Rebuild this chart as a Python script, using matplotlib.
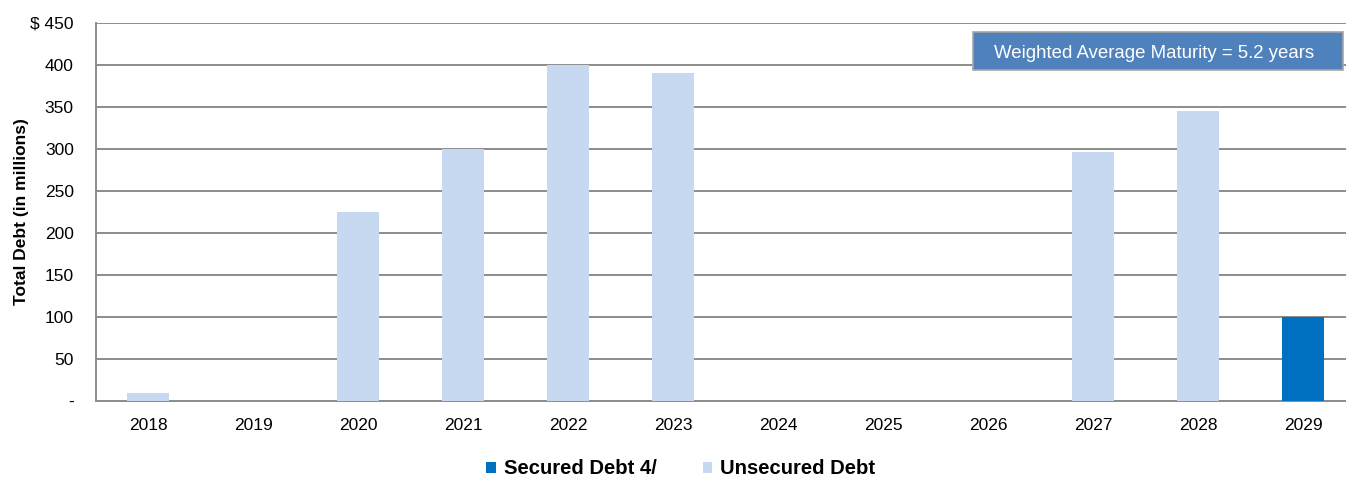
import matplotlib
matplotlib.use("Agg")
import matplotlib.pyplot as plt
from matplotlib.patches import Patch, Rectangle

plt.rcParams['font.family'] = ['Liberation Sans', 'DejaVu Sans']

years = ["2018", "2019", "2020", "2021", "2022", "2023", "2024", "2025", "2026", "2027", "2028", "2029"]
secured = [0, 0, 0, 0, 0, 0, 0, 0, 0, 0, 0, 100]
unsecured = [10, 0, 225, 300, 400, 390, 0, 0, 0, 297, 345, 0]
yticks = [0, 50, 100, 150, 200, 250, 300, 350, 400, 450]
ytick_labels = ["-", "50", "100", "150", "200", "250", "300", "350", "400", "$ 450"]

sec_color = "#0070C0"
unsec_color = "#C6D9F1"

W, H = 1346, 478
fig = plt.figure(figsize=(W/100, H/100), dpi=100)
ax = fig.add_axes([96/W, 77/H, 1 - 96/W, (401-23)/H])

x = list(range(len(years)))
ax.bar(x, unsecured, width=0.4, color=unsec_color, zorder=3)
ax.bar(x, secured, width=0.4, bottom=unsecured, color=sec_color, zorder=3)

ax.set_xlim(-0.5, 11.41)
ax.set_ylim(0, 450)
ax.set_yticks(yticks)
ax.set_yticklabels(ytick_labels, fontsize=12.5)
ax.set_xticks(x)
ax.set_xticklabels(years, fontsize=12.5)
ax.tick_params(axis='x', length=0, pad=12)
ax.tick_params(axis='y', length=0, pad=16)
ax.yaxis.grid(True, color="#8C8C8C", linewidth=1.4, zorder=0)
for s in ["top", "right"]:
    ax.spines[s].set_visible(False)
for s in ["left", "bottom"]:
    ax.spines[s].set_color("#8C8C8C")
    ax.spines[s].set_linewidth(1.4)

ax.set_ylabel("Total Debt (in millions)", fontsize=12.5, fontweight="bold")
ax.yaxis.set_label_coords(-(96-29)/(W-96), 0.5)

# annotation box
fig.patches.append(Rectangle((973/W, 1 - 70/H), (1343-973)/W, (70-32)/H,
                             transform=fig.transFigure, facecolor="#4F81BD",
                             edgecolor="#A6A6A6", linewidth=1.2, zorder=5))
fig.text(1154/W, 1 - 53/H, "Weighted Average Maturity = 5.2 years", fontsize=13.4,
         color="white", ha="center", va="center", zorder=6)

handles = [Patch(facecolor=sec_color, label="Secured Debt 4/"),
           Patch(facecolor=unsec_color, label="Unsecured Debt")]
fig.legend(handles=handles, loc="center", bbox_to_anchor=(681/W, 1 - 469/H),
           ncol=2, frameon=False, prop={"weight": "bold", "size": 14.6},
           handlelength=0.45, handleheight=0.45, handletextpad=0.4, columnspacing=2.3)

fig.savefig("out.png", dpi=100)
